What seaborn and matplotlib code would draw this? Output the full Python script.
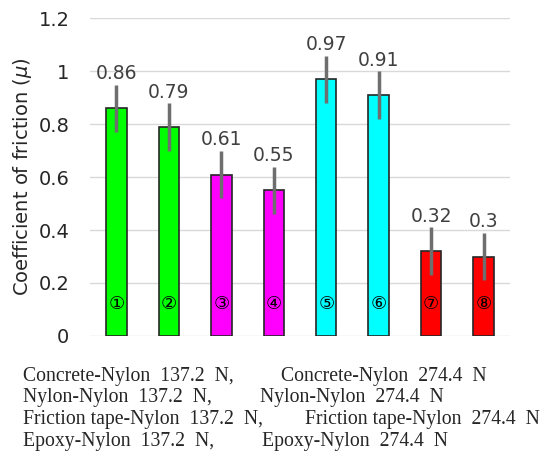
import matplotlib
matplotlib.use("Agg")
import matplotlib.pyplot as plt
import seaborn as sns
import pandas as pd

# data
samples = ["1", "2", "3", "4", "5", "6", "7", "8"]
markers = ["①", "②", "③", "④", "⑤", "⑥", "⑦", "⑧"]
cof = [0.86, 0.79, 0.61, 0.55, 0.97, 0.91, 0.32, 0.30]
cof_labels = ["0.86", "0.79", "0.61", "0.55", "0.97", "0.91", "0.32", "0.3"]
err = [0.09, 0.09, 0.09, 0.09, 0.09, 0.09, 0.09, 0.09]
bar_colors = ["#00ff00", "#00ff00", "#ff00ff", "#ff00ff",
              "#00ffff", "#00ffff", "#ff0000", "#ff0000"]
yticks = [0, 0.2, 0.4, 0.6, 0.8, 1.0, 1.2]
ytick_labels = ["0", "0.2", "0.4", "0.6", "0.8", "1", "1.2"]
legend_left = ["Concrete-Nylon  137.2  N,", "Nylon-Nylon  137.2  N,",
               "Friction tape-Nylon  137.2  N,", "Epoxy-Nylon  137.2  N,"]
legend_right = ["Concrete-Nylon  274.4  N", "Nylon-Nylon  274.4  N",
                "Friction tape-Nylon  274.4  N", "Epoxy-Nylon  274.4  N"]

df = pd.DataFrame({"sample": samples, "cof": cof})

sns.set_style("white")
fig = plt.figure(figsize=(5.47, 4.62), dpi=100)
ax = fig.add_axes([0.165, 0.273, 0.767, 0.687])

sns.barplot(data=df, x="sample", y="cof", hue="sample", palette=bar_colors,
            saturation=1, legend=False, width=0.39, edgecolor="#262626",
            linewidth=1.2, ax=ax, zorder=2)
ax.errorbar(range(len(cof)), cof, yerr=err, fmt="none", ecolor="#6e6e6e",
            elinewidth=2.5, capsize=0, zorder=3)

for i, v in enumerate(cof):
    ax.annotate(cof_labels[i], (i, v + err[i]), xytext=(0, 1),
                textcoords="offset points", ha="center", va="bottom",
                fontsize=13.5, color="#404040")
    ax.text(i, 0.12, markers[i], ha="center", va="center", fontsize=13,
            color="black", zorder=4)

ax.set_xlim(-0.5, 7.5)
ax.set_ylim(0, 1.2)
ax.set_yticks(yticks)
ax.set_yticklabels(ytick_labels, fontsize=14)
ax.set_xticks([])
ax.set_xlabel("")
ax.set_ylabel(r"Coefficient of friction ($\mu$)", fontsize=14, labelpad=3)
ax.tick_params(axis="y", length=0, pad=15)
ax.yaxis.grid(True, color="#d9d9d9", linewidth=1, zorder=0)
ax.set_axisbelow(True)
for s in ax.spines.values():
    s.set_visible(False)

right_x = [281, 260, 305, 262]
for k in range(4):
    yb = 1 - (380.5 + 21.7 * k) / 462
    fig.text(23 / 547, yb, legend_left[k], fontsize=14.2,
             family="Liberation Serif", va="baseline")
    fig.text(right_x[k] / 547, yb, legend_right[k], fontsize=14.2,
             family="Liberation Serif", va="baseline")

fig.savefig("out.png", dpi=100)
